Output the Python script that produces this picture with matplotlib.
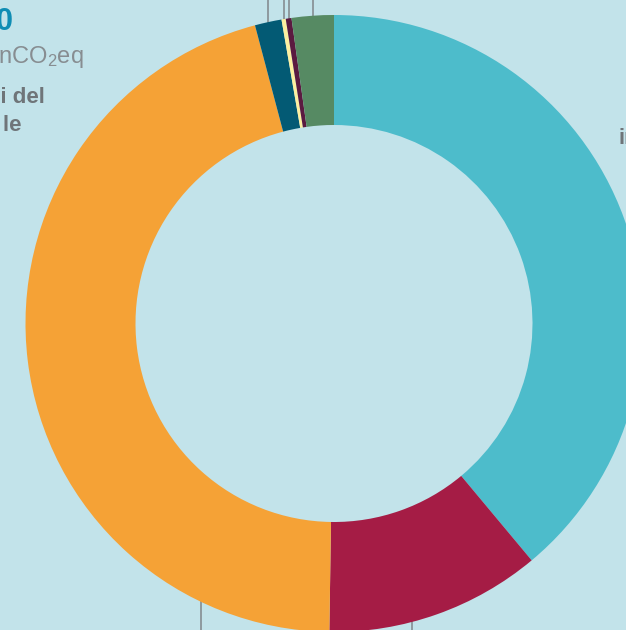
import numpy as np
import matplotlib
matplotlib.use("Agg")
import matplotlib.pyplot as plt

BG = "#c2e3ea"
GRIGIO = "#6f7579"

# quote per settore (%), in senso orario dalle ore 12
settori = ["industria", "trasporti", "civile", "agricoltura", "rifiuti", "altro", "energia"]
quote   = [38.9, 11.3, 45.6, 1.4, 0.22, 0.3, 2.2]
colori  = ["#4dbccb", "#a51c45", "#f5a236", "#035a74", "#fdf0a0", "#5b1a40", "#568a63"]

# settori con linea di richiamo verso l'alto / verso il basso (posizione nel settore, 0-1)
richiami_su  = {3: 0.5, 4: 0.5, 5: 0.5, 6: 0.5}
richiami_giu = {2: 0.15, 1: 0.62}

W, H = 626, 630
CX, CY = 334, H - 323.5
R, SPESSORE = 308.5, 110

fig = plt.figure(figsize=(W / 100, H / 100), dpi=100)
fig.patch.set_facecolor(BG)
ax = fig.add_axes([0, 0, 1, 1])
ax.set_facecolor(BG)

ax.pie(quote, colors=colori, startangle=90, counterclock=False,
       radius=R, center=(CX, CY), normalize=True,
       wedgeprops=dict(width=SPESSORE, linewidth=0, zorder=3))

# linee di richiamo
tot = sum(quote)
bordi = np.concatenate([[0], np.cumsum(quote)]) / tot
def angolo(i, f):
    frac = bordi[i] + f * (bordi[i + 1] - bordi[i])
    return np.radians(90 - 360 * frac)

for i, f in richiami_su.items():
    a = angolo(i, f)
    x, y = CX + R * np.cos(a), CY + R * np.sin(a)
    ax.plot([x, x], [y, H + 5], color="#8a9499", lw=1.3, zorder=1)
for i, f in richiami_giu.items():
    a = angolo(i, f)
    x, y = CX + R * np.cos(a), CY + R * np.sin(a)
    ax.plot([x, x], [y, -5], color="#8a9499", lw=1.3, zorder=1)

ax.set_xlim(0, W)
ax.set_ylim(0, H)
ax.set_aspect("auto")
ax.axis("off")

plt.rcParams["mathtext.default"] = "regular"
fnt = "Liberation Sans"
fig.text(13 / W, 1 - 30 / H, "360", color="#0f8db4", fontsize=22, fontweight="bold",
         family=fnt, ha="right", va="baseline")
fig.text(84 / W, 1 - 63 / H, r"mln tonCO$_2$eq", color="#878d91", fontsize=17,
         family=fnt, ha="right", va="baseline")
fig.text(45 / W, 1 - 103 / H, "Emissioni del", color=GRIGIO, fontsize=16,
         fontweight="bold", family=fnt, ha="right", va="baseline")
fig.text(22 / W, 1 - 131 / H, "per tutte   le", color=GRIGIO, fontsize=16,
         fontweight="bold", family=fnt, ha="right", va="baseline")
fig.text(619 / W, 1 - 144 / H, "industria", color=GRIGIO, fontsize=16,
         fontweight="bold", family=fnt, ha="left", va="baseline")

fig.savefig("out.png", dpi=100, facecolor=BG)
